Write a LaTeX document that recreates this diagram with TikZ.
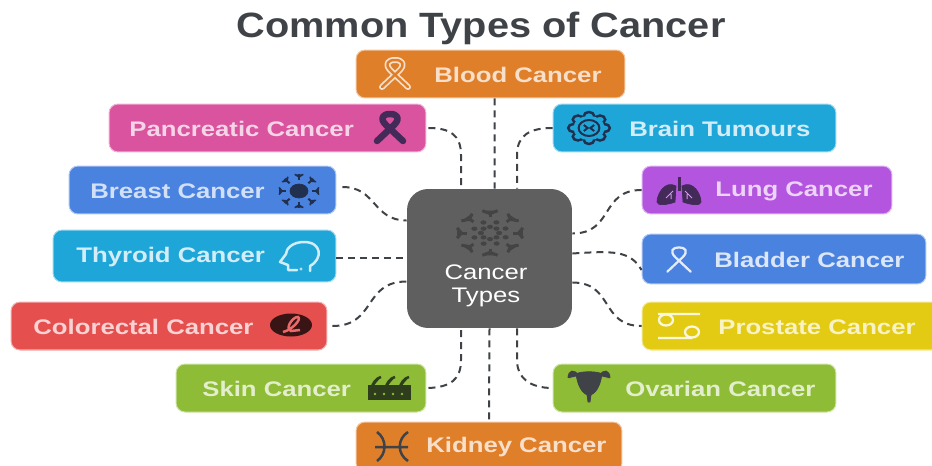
\documentclass[tikz,border=0pt]{standalone}
\usepackage{fontspec}
\setmainfont{Liberation Sans}
\newfontfamily\tagfont[FakeStretch=1.22]{Liberation Sans}
\newfontfamily\titlefont[FakeStretch=1.13]{Liberation Sans}
\usepackage{xcolor}
\usetikzlibrary{shapes.geometric}
\definecolor{bloodC}{HTML}{E07F2A}
\definecolor{pinkC}{HTML}{D9539F}
\definecolor{blueC}{HTML}{4A82E0}
\definecolor{cyanC}{HTML}{1FA6D8}
\definecolor{redC}{HTML}{E5504F}
\definecolor{greenC}{HTML}{8FBC36}
\definecolor{purpleC}{HTML}{B455E0}
\definecolor{yellowC}{HTML}{E3CB14}
\definecolor{coreC}{HTML}{5F5F5F}
\definecolor{inkC}{HTML}{3F4347}
\definecolor{navyC}{HTML}{22304F}
\definecolor{lungC}{HTML}{432A58}
\definecolor{mossC}{HTML}{2E3D1C}
\tikzset{
  tag/.style={rounded corners=.18cm, inner sep=0, minimum height=.96cm, fill=#1, draw=#1!45!white, line width=.02cm},
  tagtext/.style={font=\tagfont\bfseries\fontsize{12}{14}\selectfont, inner sep=0, anchor=west},
  link/.style={line width=.04cm, dash pattern=on .14cm off .1cm, color=inkC},
  ribbon/.pic={
    \draw[pic actions, line cap=round, line join=round] (-13,13) -- (4,-3)
      .. controls (11,-10) and (7,-14) .. (0,-14)
      .. controls (-7,-14) and (-11,-10) .. (-4,-3) -- (13,13);},
  skull/.pic={
    \fill[pic actions] (0,0) ellipse (9 and 7);
    \foreach \a in {0,45,...,315} {
      \draw[pic actions, line width=.04cm, xscale=1.2] (\a:11) -- (\a:17);
      \draw[pic actions, line width=.03cm, xscale=1.2] (\a+12:17) -- (\a:14) -- (\a-12:17);}
    },
  headline/.pic={
    \draw[pic actions, line width=.05cm, line join=round, line cap=round]
      (10,14) -- (10,9) .. controls (23,2) and (22,-15) .. (4,-15)
      .. controls (-8,-15) and (-14,-8) .. (-14,-3) -- (-20,5)
      -- (-12,8) -- (-12,13) -- (-3,13);
    \fill[pic actions] (1,12) circle (1.2);},
  skin/.pic={
    \fill[pic actions] (-21,-2) rectangle (21,12);
    \foreach \a in {-13,1,15}
      \draw[pic actions, line width=.05cm] (\a-5,2) .. controls (\a-3,-4) and (\a,-9) .. (\a+5,-10);
    \foreach \a in {-14,-5,4,13}
      \fill[greenC] (\a,7) circle (1.4);},
  pisces/.pic={
    \draw[pic actions, line width=.05cm] (-16,1) -- (17,1)
      (-14,-14) .. controls (-4,-7) and (-4,8) .. (-14,15)
      (17,-14) .. controls (6,-7) and (6,8) .. (17,15);},
  brainy/.pic={
    \begin{scope}[xscale=1.3]
    \foreach \a in {0,45,...,315}
      \draw[pic actions, line width=.05cm] (\a:12) circle (4);
    \fill[cyanC] (0,0) circle (12);
    \draw[pic actions, line width=.04cm] (0,0) circle (8)
      (-4,-3) -- (-1,0) -- (-4,3) (4,-3) -- (1,0) -- (4,3);
    \end{scope}},
  lungs/.pic={
    \fill[pic actions] (-3,-5) .. controls (-14,-11) and (-22,3) .. (-22,11)
      .. controls (-22,15) and (-12,14) .. (-4,11) -- cycle;
    \fill[pic actions] (3,-5) .. controls (14,-11) and (22,3) .. (22,11)
      .. controls (22,15) and (12,14) .. (4,11) -- cycle;
    \draw[pic actions, line width=.06cm] (0,-14) -- (0,0);
    \draw[purpleC!60!white, line width=.02cm] (-6,0) -- (-13,7) (-8,3) -- (-8,8) (6,0) -- (13,7) (8,3) -- (8,8);},
  crab/.pic={
    \draw[pic actions, line width=.045cm]
      (-21,-12) -- (21,-12) (-21,12) -- (13,12)
      (-13,-6) ellipse (7 and 5.5) (13,6) ellipse (7 and 5.5);},
  womb/.pic={
    \fill[pic actions] (-13,-11) .. controls (-9,-14) and (9,-14) .. (13,-11)
      .. controls (11,3) and (6,8) .. (2,10) -- (1,17) -- (-1,17) -- (-2,10)
      .. controls (-6,8) and (-11,3) .. (-13,-11) -- cycle;
    \draw[pic actions, line width=.055cm]
      (-11,-9) .. controls (-15,-15) and (-20,-14) .. (-20,-7)
      (11,-9) .. controls (15,-15) and (20,-14) .. (20,-7);},
  flake/.pic={
    \begin{scope}[xscale=1.3, yscale=.88]
    \foreach \a in {0,45,...,315} {
      \draw[pic actions, line width=.06cm] (\a:18) -- (\a:23);
      \draw[pic actions, line width=.06cm] (\a+13:26) -- (\a:22) -- (\a-13:26);
      \fill[pic actions] (\a+22:13) circle (2);
      \fill[pic actions] (\a:7) circle (2);}
    \end{scope}
  },
}
\begin{document}
\begin{tikzpicture}[x=.02cm, y=-.02cm]
  \useasboundingbox (0,0) rectangle (932,466);
  \node[font=\titlefont\bfseries\fontsize{20}{22}\selectfont, text=inkC, inner sep=0] (title) at (481,28) {Common Types of Cancer};

  % boxes, top to bottom
  \node[tag=bloodC, minimum width=5.38cm] (blood) at (490.5,74) {};
  \node[tag=pinkC, minimum width=6.34cm] (pancreatic) at (267.5,128) {};
  \node[tag=blueC, minimum width=5.34cm] (breast) at (202.5,190) {};
  \node[tag=cyanC, minimum width=5.66cm, minimum height=1.04cm] (thyroid) at (194.5,256) {};
  \node[tag=redC, minimum width=6.32cm] (colorectal) at (169,326) {};
  \node[tag=greenC, minimum width=5cm] (skin) at (301,388) {};
  \node[tag=bloodC, minimum width=5.32cm, minimum height=1cm] (kidney) at (489,447) {};
  \node[tag=cyanC, minimum width=5.66cm] (brain) at (694.5,128) {};
  \node[tag=purpleC, minimum width=5cm] (lung) at (767,190) {};
  \node[tag=blueC, minimum width=5.68cm, minimum height=1cm] (bladder) at (784,259) {};
  \node[tag=yellowC, minimum width=5.96cm] (prostate) at (791,326) {};
  \node[tag=greenC, minimum width=5.66cm] (ovarian) at (694.5,388) {};
  \node[rounded corners=.42cm, fill=coreC, inner sep=0, minimum width=3.3cm, minimum height=2.78cm] (core) at (489.5,258.5) {};

  \node[tagtext, text=bloodC!25!white] (bloodtext) at (434,75) {Blood Cancer};
  \node[tagtext, text=pinkC!25!white] (pancreatictext) at (129,129) {Pancreatic Cancer};
  \node[tagtext, text=blueC!25!white] (breasttext) at (90,191) {Breast Cancer};
  \node[tagtext, text=cyanC!20!white] (thyroidtext) at (76,257) {Thyroid Cancer};
  \node[tagtext, text=redC!25!white] (colorectaltext) at (33,327) {Colorectal Cancer};
  \node[tagtext, text=greenC!25!white] (skintext) at (202,389) {Skin Cancer};
  \node[tagtext, text=bloodC!25!white] (kidneytext) at (426,447) {Kidney Cancer};
  \node[tagtext, text=cyanC!20!white] (braintext) at (629,129) {Brain Tumours};
  \node[tagtext, text=purpleC!25!white] (lungtext) at (715,191) {Lung Cancer};
  \node[tagtext, text=blueC!20!white] (bladdertext) at (714,260) {Bladder Cancer};
  \node[tagtext, text=yellowC!25!white] (prostatetext) at (718,327) {Prostate Cancer};
  \node[tagtext, text=greenC!25!white] (ovariantext) at (625,389) {Ovarian Cancer};
  \node[inner sep=0, text=white, align=center, font=\tagfont\fontsize{12}{13}\selectfont] (coretext) at (486,286) {Cancer\\Types};

  % icons
  \pic[draw=bloodC!25!white, line width=.12cm] at (395,74) {ribbon};
  \pic[draw=bloodC, line width=.05cm] at (395,74) {ribbon};
  \pic[draw=lungC, line width=.13cm, scale=1] at (390,128) {ribbon};
  \pic[draw=blueC!15!white, line width=.045cm, scale=.9] at (679,260) {ribbon};
  \pic[draw=navyC, fill=navyC] at (299,191) {skull};
  \pic[draw=cyanC!20!white] at (300,257) {headline};
  \node[ellipse, fill=redC!25!black, minimum width=.84cm, minimum height=.46cm, inner sep=0] (colorectaldot) at (291,325) {};
  \draw[redC!85!white, line width=.05cm] (283,332) .. controls (292,330) and (302,319) .. (298,317) .. controls (294,316) and (284,328) .. (291,331) -- (300,330);
  \pic[draw=mossC, fill=mossC] at (389,387) {skin};
  \pic[draw=inkC] at (391,446) {pisces};
  \pic[draw=navyC] at (589,128) {brainy};
  \pic[draw=lungC, fill=lungC] at (679,191) {lungs};
  \pic[draw=yellowC!15!white] at (679,326) {crab};
  \pic[draw=inkC, fill=inkC] at (589,385) {womb};
  \pic[draw=coreC!72!black, fill=coreC!72!black] at (490,233) {flake};

  % dashed links
  \draw[link] ([xshift=.08cm]blood.south) -- ([xshift=.1cm]core.north);
  \draw[link] ([xshift=.04cm]pancreatic.east) .. controls (450,128) and (461,135) .. (461,155) -- ([xshift=-.57cm]core.north);
  \draw[link] ([xshift=.12cm, yshift=.06cm]breast.east) to[out=0, in=180, looseness=1.2] ([yshift=.76cm]core.west);
  \draw[link] ([yshift=-.04cm]thyroid.east) -- ([yshift=-.04cm]thyroid.east -| core.west);
  \draw[link] ([xshift=.1cm]colorectal.east) to[out=0, in=180, looseness=1.3] ([yshift=-.46cm]core.west);
  \draw[link] ([xshift=.04cm]skin.east) .. controls (450,387) and (461,380) .. (461,360) -- ([xshift=-.57cm]core.south);
  \draw[link] (core.south) -- (kidney.north);
  \draw[link] (brain.west) .. controls (530,128) and (517,135) .. (517,155) -- ([xshift=.55cm]core.north);
  \draw[link] (lung.west) to[out=180, in=0, looseness=1.3] ([yshift=.5cm]core.east);
  \draw[link] ([yshift=.1cm]core.east) .. controls (612,251) and (630,250) .. ([yshift=-.22cm]bladder.west);
  \draw[link] ([yshift=-.48cm]core.east) to[out=0, in=180, looseness=1.3] (prostate.west);
  \draw[link] ([xshift=.55cm]core.south) -- (517,360) .. controls (517,378) and (530,388) .. (ovarian.west);
\end{tikzpicture}
\end{document}
